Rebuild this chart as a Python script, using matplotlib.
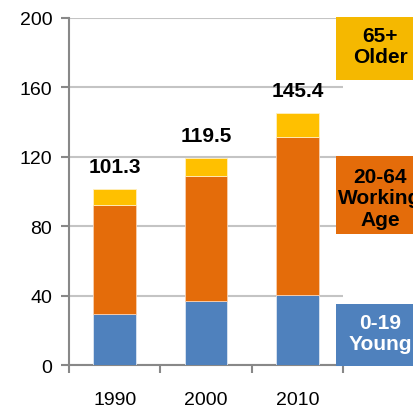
import matplotlib

matplotlib.use("Agg")

import matplotlib.pyplot as plt
import numpy as np
from matplotlib.patches import Rectangle

years = ["1990", "2000", "2010"]
young = [29.2, 36.7, 40.2]
working = [63.0, 72.2, 91.4]
older = [9.1, 10.6, 13.8]
totals = ["101.3", "119.5", "145.4"]

yticks = [0, 40, 80, 120, 160, 200]

BLUE = "#4F81BD"
ORANGE = "#E46C0A"
YELLOW = "#FFC000"

plt.rcParams["font.family"] = ["Liberation Sans", "DejaVu Sans"]

fig = plt.figure(figsize=(4.14, 4.10), dpi=100)
ax = fig.add_axes([0.1667, 0.1073, 0.6618, 0.8464])

x = np.arange(len(years))
young_arr = np.array(young)
working_arr = np.array(working)
older_arr = np.array(older)

ax.bar(x, young_arr, width=0.47, color=BLUE, edgecolor="#dce6f2", linewidth=0.6, zorder=3)
ax.bar(x, working_arr, width=0.47, bottom=young_arr, color=ORANGE,
       edgecolor="#f8d0b0", linewidth=0.6, zorder=3)
ax.bar(x, older_arr, width=0.47, bottom=young_arr + working_arr, color=YELLOW,
       edgecolor="#fff0c0", linewidth=0.6, zorder=3)

tops = young_arr + working_arr + older_arr
for xi, top, label in zip(x, tops, totals):
    ax.text(xi, top + 13, label, ha="center", va="center",
            fontsize=15, fontweight="bold", zorder=4)

ax.set_xlim(-0.5, 2.5)
ax.set_ylim(0, 200)
ax.set_yticks(yticks)
ax.set_yticklabels([str(v) for v in yticks], fontsize=14)
ax.set_xticks([-0.5, 0.5, 1.5, 2.5])
ax.set_xticklabels([])
ax.set_xticks(x, minor=True)
ax.set_xticklabels(years, minor=True, fontsize=14)
ax.tick_params(axis="x", which="minor", length=0, pad=19)
ax.tick_params(axis="x", which="major", length=6, width=1.5, color="#888888")
ax.tick_params(axis="y", length=6, width=1.5, color="#888888", pad=6)

ax.yaxis.grid(True, color="#c4c4c4", linewidth=1.5, zorder=0)
ax.set_axisbelow(True)
for side in ["top", "right"]:
    ax.spines[side].set_visible(False)
for side in ["left", "bottom"]:
    ax.spines[side].set_color("#888888")
    ax.spines[side].set_linewidth(1.5)

# legend boxes on the right, running off the figure edge
legend_items = [
    ("65+\nOlder", "#F5B800", "black", 0.8024, 0.9560, 0.885),
    ("20-64\nWorking\nAge", ORANGE, "black", 0.4268, 0.6171, 0.515),
    ("0-19\nYoung", BLUE, "white", 0.1049, 0.2561, 0.185),
]
for text, face, tcolor, y0, y1, yc in legend_items:
    fig.patches.append(Rectangle((0.8116, y0), 0.25, y1 - y0, facecolor=face,
                                 edgecolor="none", transform=fig.transFigure))
    fig.text(0.918, yc, text, ha="center", va="center", fontsize=15,
             fontweight="bold", color=tcolor, linespacing=1.15)

fig.savefig("out.png", dpi=100)
